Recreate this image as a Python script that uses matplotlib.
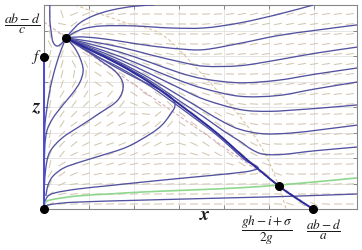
import numpy as np
import matplotlib
matplotlib.use('Agg')
import matplotlib.pyplot as plt
from matplotlib.collections import LineCollection
from matplotlib.path import Path
from matplotlib.patches import PathPatch

plt.rcParams['mathtext.fontset'] = 'stix'

# ---- equilibria (x, z) ----
eq_x = [0.0, 0.0, 0.49, 5.22, 5.98]
eq_z = [0.0, 5.96, 6.71, 0.90, 0.0]

# ---- trajectories (x, z) ----
U0_x = [0.13, 0.13, 0.16, 0.20, 0.29, 0.40, 0.49]
U0_z = [8.0, 7.41, 6.94, 6.55, 6.39, 6.51, 6.71]
U1_x = [0.49, 0.60, 0.80, 1.10, 1.50, 2.00, 2.45]
U1_z = [6.71, 6.95, 7.30, 7.58, 7.80, 7.95, 8.00]
U2_x = [0.49, 0.65, 0.90, 1.30, 2.00, 2.80, 3.56, 4.36, 5.24, 5.98]
U2_z = [6.71, 6.90, 7.08, 7.18, 7.18, 7.10, 7.10, 7.30, 7.65, 8.00]
U3_x = [0.49, 0.80, 1.20, 1.69, 2.36, 3.00, 3.56, 4.36, 5.20, 6.00, 6.96]
U3_z = [6.71, 6.75, 6.70, 6.58, 6.40, 6.28, 6.25, 6.50, 6.80, 7.00, 7.22]
U4_x = [0.49, 1.00, 1.69, 2.36, 3.00, 3.56, 4.36, 5.20, 6.00, 6.96]
U4_z = [6.71, 6.58, 6.35, 6.05, 5.78, 5.60, 5.62, 5.85, 6.10, 6.35]
U5_x = [0.49, 1.00, 1.69, 2.36, 3.00, 3.56, 4.36, 5.20, 6.00, 6.96]
U5_z = [6.71, 6.48, 6.15, 5.75, 5.35, 5.10, 4.95, 5.05, 5.28, 5.53]
U6_x = [0.49, 1.00, 1.69, 2.36, 3.00, 3.56, 4.36, 5.20, 6.00, 6.96]
U6_z = [6.71, 6.40, 5.98, 5.50, 5.05, 4.72, 4.42, 4.45, 4.70, 4.98]
U7_x = [0.49, 1.00, 1.69, 2.36, 3.00, 3.56, 4.36, 5.00, 5.70, 6.30, 6.96]
U7_z = [6.71, 6.35, 5.85, 5.30, 4.75, 4.30, 3.90, 3.83, 3.90, 3.98, 4.08]
U8_x = [0.49, 1.00, 1.69, 2.36, 3.00, 3.56, 4.00, 4.36, 4.87, 5.50, 6.20, 6.96]
U8_z = [6.71, 6.30, 5.75, 5.12, 4.45, 3.85, 3.40, 3.12, 2.95, 2.98, 3.12, 3.29]
U9_x = [0.49, 1.00, 1.69, 2.36, 3.00, 3.56, 4.00, 4.36, 4.60, 4.87, 5.30, 6.00, 6.96]
U9_z = [6.71, 6.28, 5.70, 5.02, 4.25, 3.60, 3.05, 2.65, 2.35, 2.15, 2.14, 2.28, 2.43]

L1_x = [0.49, 0.38, 0.27, 0.18, 0.11, 0.06, 0.02, 0.007]
L1_z = [6.71, 6.24, 5.65, 5.06, 4.47, 3.88, 3.29, 2.71]
L2_x = [0.49, 0.67, 0.80, 0.87, 0.80, 0.64, 0.42, 0.20, 0.07, 0.02, 0.007]
L2_z = [6.71, 6.35, 5.92, 5.45, 4.98, 4.55, 4.08, 3.57, 3.10, 2.51, 1.73]
L3_x = [0.49, 0.84, 1.24, 1.60, 1.76, 1.64, 1.24, 0.80, 0.40, 0.13, 0.04, 0.01]
L3_z = [6.71, 6.35, 5.84, 5.37, 4.86, 4.27, 3.76, 3.25, 2.78, 2.24, 1.61, 0.94]
L4_x = [0.49, 1.02, 1.58, 2.13, 2.58, 2.84, 2.91, 2.80, 2.62, 2.36, 1.84, 1.24, 0.80, 0.44, 0.20, 0.09, 0.04]
L4_z = [6.71, 6.16, 5.57, 5.06, 4.67, 4.35, 4.04, 3.69, 3.29, 2.94, 2.43, 2.08, 1.84, 1.61, 1.29, 0.94, 0.51]
M_x = [0.01, 0.07, 0.24, 0.73, 1.47, 2.22, 3.02, 3.80, 4.44, 4.67, 4.76, 4.67, 4.44, 3.84, 3.18, 2.36, 1.69, 1.02, 0.49]
M_z = [0.16, 0.47, 0.63, 0.78, 0.92, 1.06, 1.20, 1.33, 1.45, 1.53, 1.61, 1.73, 1.96, 2.90, 3.78, 4.82, 5.53, 6.12, 6.71]
B0_x = [0.0, 0.04, 0.24, 0.73, 2.22, 4.44, 5.69, 6.96]
B0_z = [0.0, 0.12, 0.20, 0.27, 0.35, 0.45, 0.51, 0.59]

# separatrix through the interior point
D_x = [0.49, 1.02, 1.69, 2.36, 3.18, 3.84, 4.44, 4.84, 5.22, 5.60, 5.98]
D_z = [6.71, 6.24, 5.65, 4.94, 3.88, 2.98, 2.04, 1.45, 0.90, 0.43, 0.0]
# green trajectory
G_x = [0.0, 0.02, 0.13, 0.73, 1.47, 2.22, 3.47, 4.44, 5.22, 6.13, 6.96]
G_z = [0.0, 0.20, 0.35, 0.51, 0.59, 0.67, 0.76, 0.84, 0.94, 1.08, 1.22]

# nullclines (dashed)
N1_x = [0.69, 1.24, 1.91, 2.64, 3.47, 4.36, 4.87, 5.22, 5.38]
N1_z = [8.0, 7.65, 7.25, 6.82, 5.37, 3.61, 2.31, 0.90, 0.0]
N2_x = [0.0, 5.98]
N2_z = [7.33, 0.0]

XMAX, ZMAX = 6.956, 8.0
PX_X, PX_Z = 45.0, 25.5   # pixels per unit

fig = plt.figure(figsize=(3.62, 2.5), dpi=100)
ax = fig.add_axes([44/362, 41/250, 313/362, 204/250])
ax.set_xlim(0, XMAX)
ax.set_ylim(0, ZMAX)
ax.set_xticks(np.arange(0, 7))
ax.set_yticks(np.arange(0, 9))
ax.tick_params(direction='in', length=3, width=0.6, top=True, right=True,
               labelleft=False, labelbottom=False, color='#777777')
ax.grid(True, color='#e2e2e2', lw=0.6)
ax.set_axisbelow(True)
for s in ax.spines.values():
    s.set_color('#888888')
    s.set_linewidth(0.8)

thin = [(U0_x, U0_z), (U1_x, U1_z), (U2_x, U2_z), (U3_x, U3_z), (U4_x, U4_z),
        (U5_x, U5_z), (U6_x, U6_z), (U7_x, U7_z), (U8_x, U8_z), (U9_x, U9_z),
        (L1_x, L1_z), (L2_x, L2_z), (L3_x, L3_z), (L4_x, L4_z), (M_x, M_z),
        (B0_x, B0_z)]
allc = thin + [(D_x, D_z), (G_x, G_z)]

# ---- direction field following the drawn trajectories ----
P0, P1 = [], []
for cx, cz in allc:
    X = np.array(cx) * PX_X
    Y = np.array(cz) * PX_Z
    P0.append(np.stack([X[:-1], Y[:-1]], 1))
    P1.append(np.stack([X[1:], Y[1:]], 1))
P0 = np.concatenate(P0)
P1 = np.concatenate(P1)
d = P1 - P0
theta = np.arctan2(d[:, 1], d[:, 0])
gxs = np.arange(6, 313, 12.0)
gys = np.arange(5, 204, 10.0)
GX, GY = np.meshgrid(gxs, gys)
G = np.stack([GX.ravel(), GY.ravel()], 1)
rel = G[:, None, :] - P0[None, :, :]
L2n = (d ** 2).sum(1)
t = np.clip((rel * d[None]).sum(2) / np.maximum(L2n, 1e-9)[None], 0, 1)
proj = P0[None] + t[..., None] * d[None]
dist2 = ((G[:, None, :] - proj) ** 2).sum(2)
w = 1.0 / (dist2 + 4.0) ** 1.5
ang = 0.5 * np.arctan2((w * np.sin(2 * theta)[None]).sum(1), (w * np.cos(2 * theta)[None]).sum(1))
half = 4.0
segs = []
for (px, py), a in zip(G, ang):
    x0, y0 = px / PX_X, py / PX_Z
    dx, dy = half * np.cos(a) / PX_X, half * np.sin(a) / PX_Z
    segs.append([(x0 - dx, y0 - dy), (x0 + dx, y0 + dy)])
ax.add_collection(LineCollection(segs, colors='#d3c7b0', linewidths=0.75, zorder=1))


def smooth_path(xs, zs):
    """Smooth rendering (cubic Bezier through the read points)."""
    P = np.column_stack([xs, zs]).astype(float)
    n = len(P)
    if n < 3:
        return Path(P)
    Q = np.vstack([P[0], P, P[-1]])
    verts = [P[0]]
    codes = [Path.MOVETO]
    for i in range(n - 1):
        p_1, p0, p1, p2 = Q[i], Q[i + 1], Q[i + 2], Q[i + 3]
        c1 = p0 + (p1 - p_1) / 6.0
        c2 = p1 - (p2 - p0) / 6.0
        verts += [c1, c2, p1]
        codes += [Path.CURVE4] * 3
    return Path(np.array(verts), codes)


def draw(xs, zs, **kw):
    ax.add_patch(PathPatch(smooth_path(xs, zs), fill=False, **kw))


# nullclines
draw(N1_x, N1_z, edgecolor='#dcc6a4', lw=0.8, ls=(0, (3, 2)), zorder=2)
ax.plot(N2_x, N2_z, color='#dbaabd', lw=0.8, ls=(0, (3, 2)), zorder=2)

for cx, cz in thin:
    draw(cx, cz, edgecolor='#5252a0', lw=0.95, zorder=3)
draw(D_x, D_z, edgecolor='#2a2a9c', lw=1.4, zorder=4)
draw(G_x, G_z, edgecolor='#8ed88e', lw=1.2, zorder=3)
ax.plot([0, 0], [0, eq_z[1]], color='#4a4ad8', lw=1.4, zorder=4, clip_on=False)

ax.plot(eq_x, eq_z, 'o', color='black', ms=5.5, zorder=10, clip_on=False)


def ft(px, py):
    return px / 362, 1 - py / 250


tk = dict(color='#1a1a1a', ha='center', va='center')
fig.text(*ft(22, 24), r'$\dfrac{ab-d}{c}$', fontsize=10, **tk)
fig.text(*ft(36, 57), r'$f$', fontsize=11, **tk)
fig.text(*ft(37, 106), 'z', family='STIXGeneral', weight='bold', style='italic', fontsize=14, **tk)
fig.text(*ft(205, 215), 'x', family='STIXGeneral', weight='bold', style='italic', fontsize=14, **tk)
fig.text(*ft(267, 230), r'$\dfrac{gh-i+\sigma}{2g}$', fontsize=9.5, **tk)
fig.text(*ft(324, 230), r'$\dfrac{ab-d}{a}$', fontsize=9.5, **tk)

fig.savefig('out.png', dpi=100)
